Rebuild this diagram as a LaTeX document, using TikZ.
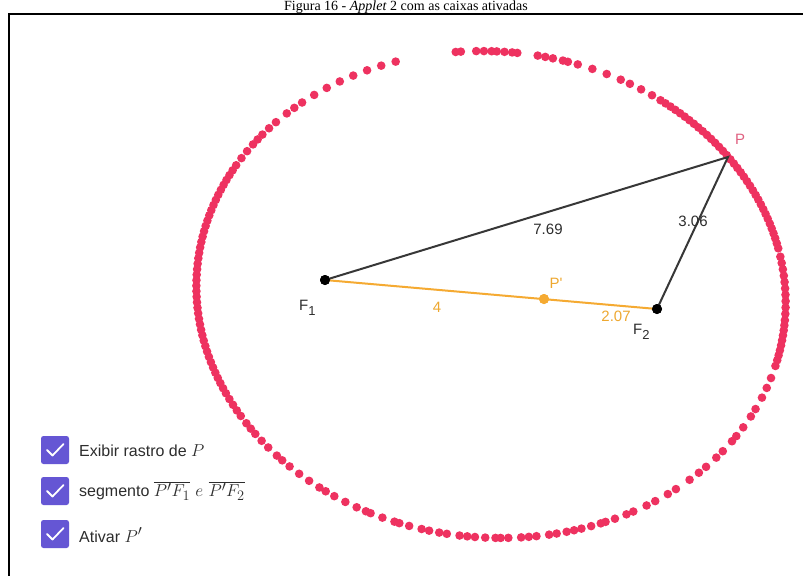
\documentclass[tikz,border=0pt]{standalone}
\usepackage{fontspec}
\setmainfont{Liberation Serif}
\newfontfamily\ggb{Liberation Sans}
\definecolor{trace}{RGB}{238,50,96}
\definecolor{segorange}{RGB}{245,170,50}
\definecolor{labelorange}{RGB}{238,168,48}
\definecolor{segdark}{RGB}{55,55,55}
\definecolor{plabel}{RGB}{224,96,128}
\definecolor{boxpurple}{RGB}{101,86,212}
\definecolor{txtdark}{RGB}{45,45,45}
\begin{document}
\begin{tikzpicture}[x=1pt,y=-1pt,
  tracedot/.style={fill=trace},
  ptdot/.style={circle,fill=black,inner sep=0pt,minimum size=10pt},
  lbl/.style={inner sep=0pt,font=\ggb\fontsize{15}{17}\selectfont},
  cbox/.style={fill=boxpurple,rounded corners=2.5pt,minimum size=28pt,inner sep=0pt},
  cboxtext/.style={anchor=west,inner sep=0pt,text=txtdark,font=\ggb\fontsize{16}{18}\selectfont},
  tick/.style={draw=white,line width=1.8pt,line cap=round,line join=round}]
\clip (0,0) rectangle (803,576);
\fill[white] (0,0) rectangle (803,576);
% title and frame
\node[anchor=base,inner sep=0pt,font=\fontsize{14}{16}\selectfont] (title) at (406,10.5) {Figura 16 - \textit{Applet} 2 com as caixas ativadas};
\coordinate (tl) at (9,14);
\coordinate (tr) at (803,14);
\coordinate (bl) at (9,576);
\draw[line width=2pt] (tr) -- (tl) -- (bl);
% trace of P
\foreach \t in {0,1.2,2.4,3.6,4.8,6,7.2,8.4,9.6,11,
  14,16.5,19,22,24,27,29.5,31,34,36,39,41,43.5,47,49,
  52,54,57,58.5,61,63,64,66,68,69.5,71,73,74.5,
  77,78.5,80,82.5,84,85,87,89,90.5,92,94.5,96,98,99.5,
  102,104,105,107.5,110,111,113,115.5,118,120,121.5,124,126.5,129,131,132.5,135,137,139,140.5,142,144,145.5,147,148.5,150,
  151.3,152.6,153.9,155.2,156.5,157.8,159.1,160.4,161.7,163,164.3,165.6,166.9,168.2,169.5,170.8,172.1,173.4,174.7,176,177.3,178.6,179.9,181.2,182.5,183.8,185.1,186.4,187.7,189,190.3,191.6,192.9,194.2,195.5,196.8,198.1,199.4,200.7,202,203.3,204.6,
  206,208,210,212,213.5,215,217,219,222,224,226,229,232,235,238,241,244,247,
  259,260,263,264.5,266,267,268.5,270,271,275,276.5,278,280,281,283,
  286,289,292,294,296.5,299,
  301,302.2,303.4,304.6,305.8,307,308.2,309.4,310.6,311.8,313,314.2,315.4,316.6,317.8,319,320.2,321.4,322.6,323.8,325,326.2,327.4,328.6,329.8,331,332.2,333.4,334.6,335.8,337,338.2,339.4,340.6,341.8,343,
  345,346.5,348,349.5,351,352.5,354,355.5,357,358.5}{
  \fill[tracedot] ({491+295*cos(\t)*0.9962-243*sin(\t)*0.0872},{294.5+295*cos(\t)*0.0872+243*sin(\t)*0.9962}) circle[radius=4.3pt];
}
% points
\coordinate (P) at (728,157);
\node[ptdot] (F1) at (325,280) {};
\node[ptdot] (F2) at (657,309) {};
\node[ptdot,fill=segorange] (Pp) at (544,299) {};
% segments
\draw[segorange,line width=2pt] (F1.center) -- (F2.center);
\draw[segdark,line width=2pt] (F1.center) -- (P) -- (F2.center);
\node[ptdot,fill=segorange] at (Pp) {};
\node[ptdot] at (F1) {};
\node[ptdot] at (F2) {};
% labels
\node[lbl,text=plabel] (Plbl) at (740,139) {P};
\node[lbl,text=txtdark] (d1) at (548,229) {7.69};
\node[lbl,text=txtdark] (d2) at (693,221) {3.06};
\node[lbl,text=labelorange] (Pplbl) at (556,283) {P'};
\node[lbl,text=labelorange] (d3) at (437,307) {4};
\node[lbl,text=labelorange] (d4) at (616,316) {2.07};
\node[lbl,text=txtdark,anchor=base west] (F1lbl) at (299,310) {F\raisebox{-5pt}{\fontsize{13}{13}\selectfont 1}};
\node[lbl,text=txtdark,anchor=base west] (F2lbl) at (633,334) {F\raisebox{-5pt}{\fontsize{13}{13}\selectfont 2}};
% checkboxes
\foreach \n/\y in {a/450,b/491,c/534}{
  \node[cbox] (box\n) at (55,\y) {};
  \draw[tick] ([shift={(-8,0)}]box\n.center) -- ([shift={(-2.5,5.5)}]box\n.center) -- ([shift={(8.5,-6)}]box\n.center);
}
\node[cboxtext] (ta) at (79,451) {Exibir rastro de {\fontsize{19}{20}\selectfont$P$}};
\node[cboxtext] (tb) at (79,491) {segmento {\fontsize{19}{20}\selectfont$\overline{P'F_1}$ $e$ $\overline{P'F_2}$}};
\node[cboxtext] (tc) at (79,535) {Ativar {\fontsize{19}{20}\selectfont$P'$}};
\end{tikzpicture}
\end{document}
